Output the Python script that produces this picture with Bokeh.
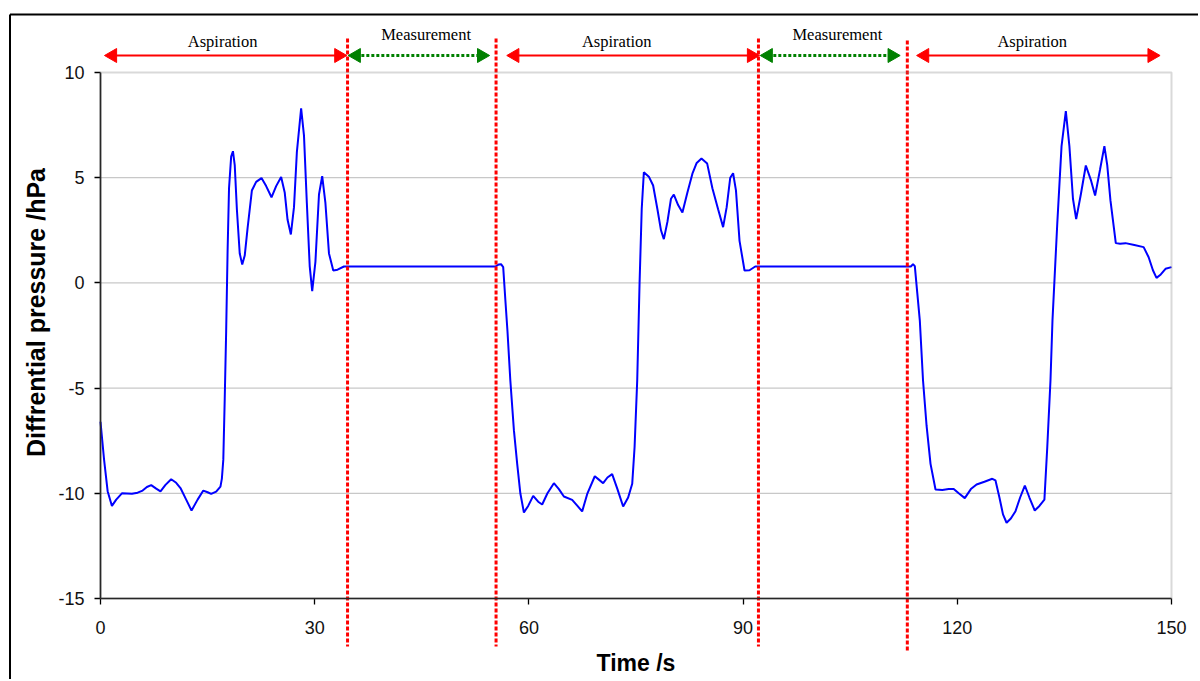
from bokeh.plotting import figure
from bokeh.models import Range1d, FixedTicker, BoxAnnotation, PrintfTickFormatter, LinearAxis
from bokeh.core.properties import value
from bokeh.embed import file_html
from bokeh.resources import INLINE
import math

# ---- data ----
time_s = [0.0, 0.5, 1.0, 1.6, 2.2, 3.0, 4.4, 5.2, 5.9, 6.5, 7.1, 7.8, 8.4, 9.1, 9.9, 10.6, 11.2, 12.0, 12.75, 13.6,
          14.4, 15.0, 15.5, 16.2, 16.8, 17.0, 17.2, 17.4, 17.6, 17.8, 18.0, 18.3, 18.55, 18.8, 19.1, 19.5, 19.85, 20.2,
          20.6, 21.2, 21.8, 22.55, 23.2, 23.95, 24.6, 25.3, 25.8, 26.2, 26.66, 27.1, 27.5, 28.1, 28.5, 28.9, 29.3,
          29.65, 30.1, 30.6, 31.05, 31.5, 32.0, 32.6, 33.2, 34.1, 55.3, 55.8, 56.1, 56.4, 56.7, 57.0, 57.4, 57.9,
          58.36, 58.8, 59.3, 59.9, 60.6, 61.3, 61.86, 62.6, 63.5, 64.2, 64.9, 66.06, 66.8, 67.46, 68.2, 69.23, 69.8,
          70.4, 71.0, 71.66, 72.4, 73.2, 73.9, 74.47, 74.8, 75.17, 75.5, 75.8, 76.1, 76.8, 77.4, 78.0, 78.5, 78.9,
          79.4, 79.9, 80.3, 80.9, 81.5, 82.2, 82.9, 83.5, 84.17, 84.97, 85.7, 86.5, 87.2, 87.7, 88.2, 88.6, 89.0,
          89.5, 90.2, 90.9, 91.7, 113.5, 113.8, 114.05, 114.4, 114.75, 115.2, 115.7, 116.25, 116.95, 117.9, 118.8,
          119.5, 120.2, 121.05, 121.9, 122.7, 123.8, 124.9, 125.35, 125.9, 126.4, 126.9, 127.5, 128.15, 128.8,
          129.46, 130.1, 130.85, 131.5, 132.2, 132.6, 133.05, 133.33, 134.0, 134.6, 135.2, 135.7, 136.2, 136.65,
          137.3, 138.0, 138.7, 139.3, 140.0, 140.6, 141.0, 141.45, 142.2, 142.8, 143.56, 144.8, 146.1, 146.8, 147.4,
          147.9, 148.5, 149.16, 150.0]
pressure_hpa = [-6.6, -8.4, -9.9, -10.6, -10.3, -10.0, -10.02, -9.97, -9.87, -9.7, -9.61, -9.78, -9.91, -9.6, -9.33,
                -9.5, -9.75, -10.3, -10.82, -10.3, -9.87, -9.95, -10.03, -9.92, -9.68, -9.3, -8.4, -5.5, -2.3, 1.5,
                4.5, 6.0, 6.26, 5.6, 3.5, 1.4, 0.87, 1.3, 2.6, 4.39, 4.8, 4.98, 4.6, 4.07, 4.6, 5.03, 4.3, 3.0, 2.3,
                3.6, 6.2, 8.3, 7.0, 3.8, 0.8, -0.39, 1.0, 4.2, 5.07, 3.8, 1.4, 0.59, 0.63, 0.78, 0.78, 0.88, 0.89,
                0.75, -0.8, -2.3, -4.64, -7.0, -8.6, -10.0, -10.91, -10.6, -10.12, -10.4, -10.53, -10.0, -9.52, -9.8,
                -10.15, -10.31, -10.6, -10.86, -10.0, -9.19, -9.35, -9.52, -9.25, -9.09, -9.8, -10.63, -10.2, -9.55,
                -7.81, -4.64, 0.0, 3.5, 5.26, 5.05, 4.63, 3.5, 2.5, 2.08, 2.9, 4.0, 4.2, 3.7, 3.35, 4.3, 5.19, 5.7,
                5.91, 5.67, 4.5, 3.5, 2.65, 3.6, 5.0, 5.21, 4.4, 2.0, 0.59, 0.6, 0.78, 0.78, 0.89, 0.8, -0.5, -1.79,
                -4.64, -6.8, -8.6, -9.82, -9.84, -9.8, -9.79, -10.0, -10.23, -9.8, -9.58, -9.45, -9.31, -9.39, -10.2,
                -11.0, -11.4, -11.2, -10.85, -10.2, -9.63, -10.2, -10.82, -10.6, -10.3, -7.81, -4.64, -1.79, 2.81,
                6.5, 8.16, 6.5, 4.0, 3.03, 4.2, 5.58, 4.9, 4.15, 5.4, 6.5, 5.6, 3.92, 1.89, 1.86, 1.89, 1.8, 1.7,
                1.22, 0.6, 0.24, 0.4, 0.67, 0.75]

x_ticks = [0, 30, 60, 90, 120, 150]
y_ticks = [-15, -10, -5, 0, 5, 10]

phase_names = ["Aspiration", "Measurement", "Aspiration", "Measurement", "Aspiration"]
phase_arrow_start = [0.56, 34.7, 56.9, 92.4, 114.3]
phase_arrow_end = [34.5, 54.5, 92.3, 112.0, 148.4]
phase_label_x = [17.1, 45.6, 72.3, 103.2, 130.5]
phase_boundaries = [34.6, 55.4, 92.15, 113.0]

# ---- layout (pixel geometry of the plot area inside the canvas) ----
W, H = 1198, 679
X0, X1 = 0, 150
Y0, Y1 = -15, 10
PX_L, PX_R, PY_T, PY_B = 100, 1171, 72, 598
sx = (PX_R - PX_L) / (X1 - X0)
sy = (PY_B - PY_T) / (Y1 - Y0)

def dx(px):
    return X0 + (px - PX_L) / sx

def dy(py):
    return Y1 - (py - PY_T) / sy

p = figure(width=W, height=H, output_backend="svg", toolbar_location=None,
           x_range=Range1d(dx(0), dx(W)), y_range=Range1d(dy(H), dy(0)),
           min_border=0, min_border_left=0, min_border_right=0, min_border_top=0, min_border_bottom=0)
p.background_fill_color = "white"
p.border_fill_color = "white"
p.outline_line_color = None
p.xgrid.visible = False
p.ygrid.visible = False

# horizontal gridlines inside the plot area
grid_y = [t for t in y_ticks if Y0 < t < Y1]
p.segment(x0=[X0] * len(grid_y), y0=grid_y, x1=[X1] * len(grid_y), y1=grid_y,
          line_color="#c8c8c8", line_width=1.3)

# plot-area border (grey)
p.add_layout(BoxAnnotation(left=X0, right=X1, bottom=Y0, top=Y1, fill_color=None,
                           line_color="#808080", line_width=2))

for ax in (p.xaxis[0], p.yaxis[0]):
    ax.axis_line_color = "black"
    ax.axis_line_width = 1.6
    ax.major_tick_line_color = "black"
    ax.major_tick_line_width = 1.3
    ax.major_tick_out = 6
    ax.major_tick_in = 0
    ax.minor_tick_line_color = None
    ax.major_label_text_font = "Liberation Sans"
    ax.major_label_text_font_size = "18px"
    ax.major_label_text_color = "#111111"
    ax.axis_label_text_font = "Liberation Sans"
    ax.axis_label_text_font_style = "bold"
    ax.axis_label_text_color = "black"
    ax.formatter = PrintfTickFormatter(format="%d")

p.xaxis.fixed_location = Y0
p.yaxis.fixed_location = X0
p.xaxis.bounds = (X0, X1)
p.yaxis.bounds = (Y0, Y1)
p.xaxis.ticker = FixedTicker(ticks=x_ticks)
p.yaxis.ticker = FixedTicker(ticks=y_ticks)
p.xaxis.axis_label = "Time /s"
p.xaxis.axis_label_text_font_size = "23px"
p.xaxis.major_label_standoff = 16
p.yaxis.major_label_standoff = 10
p.xaxis.axis_label_standoff = 13

# y-axis title carried by a second (line-less) left axis, so it sits where the reference puts it
ylab_axis = LinearAxis(fixed_location=X0, bounds=(dy(457), dy(167)), ticker=FixedTicker(ticks=[]),
                       axis_line_color=None, major_tick_line_color=None, minor_tick_line_color=None,
                       major_tick_out=0, major_label_text_font_size="0px",
                       axis_label="Diffrential pressure /hPa", axis_label_text_font="Liberation Sans",
                       axis_label_text_font_style="bold", axis_label_text_font_size="25px",
                       axis_label_text_color="black", axis_label_standoff=51)
p.add_layout(ylab_axis, "left")

# measured signal
p.line(time_s, pressure_hpa, line_color="#0000ff", line_width=2)

# vertical dotted phase boundaries
yb = [dy(38), dy(38), dy(38), dy(40)]
ye = [dy(646), dy(646), dy(646), dy(652)]
p.segment(x0=phase_boundaries, y0=yb, x1=phase_boundaries, y1=ye,
          line_color="#ff0000", line_width=3, line_dash="4 2")

# phase arrows (shaft + two triangular heads) and labels
arrow_y = dy(55)
head_size = 14
head_off = 0.577 * head_size / sx
for name, xs, xe, xl in zip(phase_names, phase_arrow_start, phase_arrow_end, phase_label_x):
    if name == "Aspiration":
        col, lw, dash, ly = "#ff0000", 2, "solid", dy(41)
    else:
        col, lw, dash, ly = "#008000", 3, "3 2", dy(34)
    p.segment(x0=[xs + head_off], y0=[arrow_y], x1=[xe - head_off], y1=[arrow_y],
              line_color=col, line_width=lw, line_dash=dash)
    p.scatter(x=[xs + head_off, xe - head_off], y=[arrow_y, arrow_y], marker="triangle",
              size=head_size, angle=[math.pi / 2, -math.pi / 2],
              fill_color=col, line_color=col, line_width=1)
    p.text(x=[xl], y=[ly], text=[name], text_align="center", text_baseline="alphabetic",
           text_font=value("Liberation Serif"), text_font_size="16.5px", text_color="black")

# outer chart-area border (left and top edges visible in the window)
bx, by = dx(9.5), dy(14)
p.segment(x0=[bx, bx], y0=[by, by], x1=[bx, dx(W + 20)], y1=[dy(H + 20), by],
          line_color="black", line_width=2)

open("out.html", "w").write(file_html(p, INLINE))
